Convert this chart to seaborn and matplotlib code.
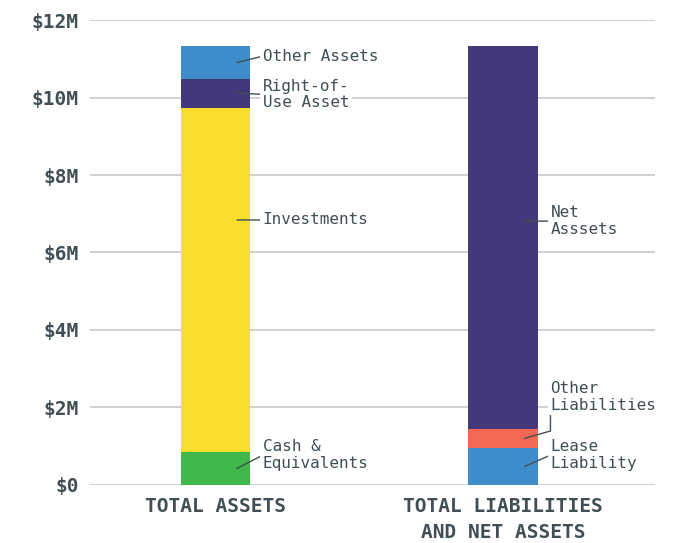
import matplotlib
matplotlib.use("Agg")
import matplotlib.pyplot as plt
from matplotlib.ticker import FuncFormatter
import numpy as np
import pandas as pd
import seaborn as sns

# values in $M
categories = ["TOTAL ASSETS", "TOTAL LIABILITIES\nAND NET ASSETS"]
asset_items = ["Cash &\nEquivalents", "Investments", "Right-of-\nUse Asset", "Other Assets"]
asset_values = [0.85, 8.88, 0.75, 0.85]
liab_items = ["Lease\nLiability", "Other\nLiabilities", "Net\nAsssets"]
liab_values = [0.95, 0.50, 9.88]
yticks = [0, 2, 4, 6, 8, 10, 12]

asset_colors = ["#41b649", "#f9de2b", "#42387a", "#3f8cca"]
liab_colors = ["#3f8cca", "#f26853", "#42387a"]

TXT = "#3f4f55"
GRID = "#c3c9cc"
MONO = ["DejaVu Sans Mono"]

sns.set_theme(style="white")
plt.rcParams["font.family"] = MONO

fig = plt.figure(figsize=(6.86, 5.43), dpi=100)
ax = fig.add_axes([0.131, 0.107, 0.824, 0.856])

rows = []
for item, val, col in zip(asset_items, asset_values, asset_colors):
    rows.append((categories[0], item, val, col))
for item, val, col in zip(liab_items, liab_values, liab_colors):
    rows.append((categories[1], item, val, col))
df = pd.DataFrame(rows, columns=["category", "item", "value", "color"])
df["bottom"] = df.groupby("category")["value"].cumsum() - df["value"]
df["mid"] = df["bottom"] + df["value"] / 2

for _, r in df.iterrows():
    sns.barplot(x=[r["category"]], y=[r["value"]], bottom=r["bottom"],
                order=categories, color=r["color"], saturation=1,
                width=0.24, linewidth=0, ax=ax, zorder=3)

# label placement: (label y in $M, leader anchor y or None for mid)
label_y = {
    "Cash &\nEquivalents": (0.77, None),
    "Investments": (6.84, 6.84),
    "Right-of-\nUse Asset": (10.08, 10.12),
    "Other Assets": (11.07, None),
    "Lease\nLiability": (0.77, None),
    "Other\nLiabilities": (2.27, None),
    "Net\nAsssets": (6.81, 6.81),
}

for _, r in df.iterrows():
    bx = categories.index(r["category"])
    ly, ay = label_y[r["item"]]
    if ay is None:
        ay = r["mid"]
    if r["item"] == "Other\nLiabilities":
        arrow = dict(arrowstyle="-", color=TXT, lw=1, shrinkA=0, shrinkB=0,
                     relpos=(0, 0), connectionstyle="angle,angleA=90,angleB=16,rad=0")
    else:
        arrow = dict(arrowstyle="-", color=TXT, lw=1, shrinkA=0, shrinkB=0,
                     relpos=(0, 0.5))
    ax.annotate(r["item"], xy=(bx + 0.075, ay), xytext=(bx + 0.165, ly),
                ha="left", va="center", fontsize=11.5, color=TXT,
                linespacing=1.15, zorder=5, arrowprops=arrow,
                bbox=dict(boxstyle="square,pad=0.15", fc="white", ec="none"))

ax.set_xlim(-0.4365, 1.529)
ax.set_ylim(0, 12)
ax.set_yticks(yticks)
ax.yaxis.set_major_formatter(FuncFormatter(lambda v, p: "$0" if v == 0 else f"${v:.0f}M"))
ax.yaxis.grid(True, color=GRID, lw=1.2, zorder=0)
ax.set_axisbelow(True)
for s in ax.spines.values():
    s.set_visible(False)
ax.tick_params(axis="both", length=0, colors=TXT)
ax.tick_params(axis="y", pad=8)
ax.tick_params(axis="x", pad=9)
for lab in ax.get_yticklabels() + ax.get_xticklabels():
    lab.set_fontsize(14)
    lab.set_fontweight("bold")
    lab.set_linespacing(1.45)
ax.set_xlabel("")
ax.set_ylabel("")

fig.savefig("out.png", dpi=100, facecolor="white")
